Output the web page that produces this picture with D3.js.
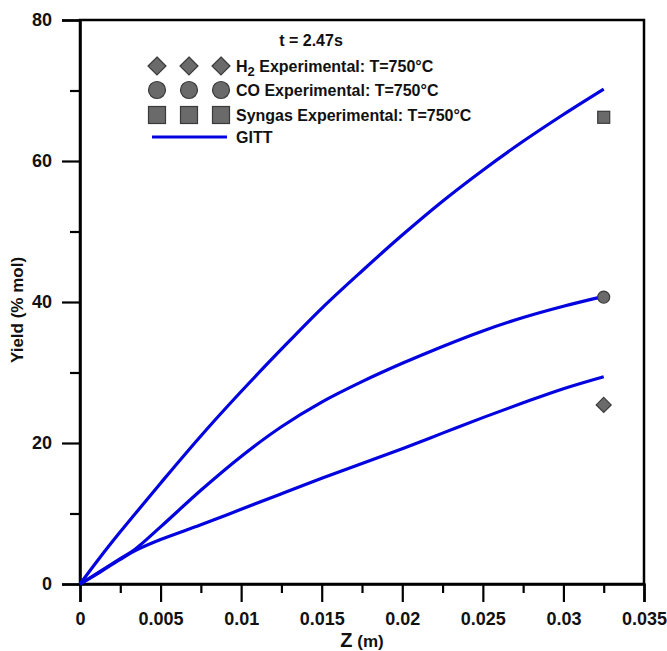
<!DOCTYPE html>
<html>
<head>
<meta charset="utf-8">
<script src="https://cdn.jsdelivr.net/npm/d3@7"></script>
<style>
  body { margin: 0; background: #fff; }
  svg { font-family: "Liberation Sans", Arial, sans-serif; font-weight: bold; }
</style>
</head>
<body>
<script>
// GITT curves, yield (% mol) vs Z (m)
var zValues = [0, 0.00125, 0.0025, 0.0034, 0.005, 0.0075, 0.01, 0.0125, 0.015, 0.0175, 0.02, 0.0225, 0.025, 0.0275, 0.03, 0.0325];
var syngasYield = [0, 3.8, 7.4, 9.9, 14.3, 21.0, 27.3, 33.3, 39.1, 44.4, 49.5, 54.3, 58.7, 62.8, 66.6, 70.2];
var coYield     = [0, 1.8, 3.6, 4.9, 8.1, 13.3, 18.1, 22.3, 25.8, 28.7, 31.3, 33.7, 35.9, 37.8, 39.4, 40.8];
var h2Yield     = [0, 1.7, 3.5, 4.7, 6.3, 8.4, 10.6, 12.8, 15.0, 17.1, 19.2, 21.4, 23.6, 25.7, 27.7, 29.4];

// experimental points
var expZ = 0.0325;
var expNames = ["Syngas", "CO", "H2"];
var expValues = [66.2, 40.7, 25.4];

var xTicks = [0, 0.005, 0.01, 0.015, 0.02, 0.025, 0.03, 0.035];
var yTicks = [0, 20, 40, 60, 80];

var margin = {top: 20, right: 23, bottom: 67, left: 80},
    width = 667 - margin.left - margin.right,
    height = 651 - margin.top - margin.bottom;

var svg = d3.select("body").append("svg")
    .attr("width", 667)
    .attr("height", 651);

var g = svg.append("g")
    .attr("transform", "translate(" + margin.left + "," + margin.top + ")");

var x = d3.scaleLinear().domain([0, 0.035]).range([0, width]);
var y = d3.scaleLinear().domain([0, 80]).range([height, 0]);

var blue = "#0303e0";
var markFill = "#6a6a6a", markStroke = "#3a3a3a";

// box
g.append("rect")
    .attr("width", width).attr("height", height)
    .attr("fill", "none").attr("stroke", "#000").attr("stroke-width", 2.5);

// x axis major + minor ticks
g.append("g").attr("transform", "translate(0," + height + ")")
    .call(d3.axisBottom(x).tickValues(xTicks).tickSize(18).tickPadding(10)
      .tickFormat(function(d) { return d === 0 ? "0" : String(+d.toFixed(3)); }));
g.append("g").attr("transform", "translate(0," + height + ")")
    .call(d3.axisBottom(x).tickValues(d3.range(0.0025, 0.035, 0.005)).tickSize(9).tickFormat(""))
    .select(".domain").remove();

g.append("g")
    .call(d3.axisLeft(y).tickValues(yTicks).tickSize(18).tickPadding(10));
g.append("g")
    .call(d3.axisLeft(y).tickValues([10, 30, 50, 70]).tickSize(10).tickFormat(""))
    .select(".domain").remove();

g.selectAll(".tick line").attr("stroke", "#000").attr("stroke-width", 2.2);
g.selectAll(".domain").attr("stroke", "#000").attr("stroke-width", 2.5);
g.selectAll(".tick text")
    .attr("fill", "#111")
    .style("font-family", "'Liberation Sans', Arial, sans-serif")
    .style("font-weight", "bold")
    .style("font-size", "18px");

// axis titles
var xt = svg.append("text")
    .attr("x", 362).attr("y", 647)
    .attr("text-anchor", "middle")
    .attr("fill", "#111");
xt.append("tspan").style("font-size", "20px").text("Z");
xt.append("tspan").style("font-size", "17px").text(" (m)");

svg.append("text")
    .attr("transform", "translate(23,310) rotate(-90)")
    .attr("text-anchor", "middle")
    .attr("fill", "#111")
    .style("font-size", "17px")
    .text("Yield (% mol)");

// curves
var series = [syngasYield, coYield, h2Yield];
var line = d3.line()
    .x(function(d, i) { return x(zValues[i]); })
    .y(function(d) { return y(d); })
    .curve(d3.curveCatmullRom.alpha(0.5));

g.selectAll(".gitt")
    .data(series)
    .enter().append("path")
    .attr("class", "gitt")
    .attr("d", line)
    .attr("fill", "none")
    .attr("stroke", blue)
    .attr("stroke-width", 3.2)
    .attr("stroke-linejoin", "round");

// marker drawing
function drawMarker(sel, name, cx, cy, s) {
  if (name === "Syngas") {
    sel.append("rect")
      .attr("x", cx - s / 2).attr("y", cy - s / 2)
      .attr("width", s).attr("height", s)
      .attr("fill", markFill).attr("stroke", markStroke).attr("stroke-width", 1.2);
  } else if (name === "CO") {
    sel.append("circle")
      .attr("cx", cx).attr("cy", cy).attr("r", s / 2)
      .attr("fill", markFill).attr("stroke", markStroke).attr("stroke-width", 1.2);
  } else {
    var h = s / 2;
    sel.append("path")
      .attr("d", "M" + cx + "," + (cy - h) + "L" + (cx + h) + "," + cy + "L" + cx + "," + (cy + h) + "L" + (cx - h) + "," + cy + "Z")
      .attr("fill", markFill).attr("stroke", markStroke).attr("stroke-width", 1.2);
  }
}

expNames.forEach(function(n, i) {
  var size = n === "H2" ? 15 : 12;
  drawMarker(g, n, x(expZ), y(expValues[i]), size);
});

// legend
svg.append("text")
    .attr("x", 311).attr("y", 46)
    .attr("text-anchor", "middle")
    .attr("fill", "#111")
    .style("font-size", "16px")
    .text("t = 2.47s");

var legendRows = [
  {name: "H2", y: 66, label: ["H", "2", " Experimental: T=750\u00B0C"]},
  {name: "CO", y: 90, label: ["CO Experimental: T=750\u00B0C"]},
  {name: "Syngas", y: 115, label: ["Syngas Experimental: T=750\u00B0C"]}
];
var legendX = [157, 189, 221];

legendRows.forEach(function(r) {
  legendX.forEach(function(lx) {
    drawMarker(svg, r.name, lx, r.y, r.name === "H2" ? 18 : 17);
  });
  var t = svg.append("text")
      .attr("x", 236).attr("y", r.y + 6)
      .attr("fill", "#111")
      .style("font-size", "16px");
  if (r.label.length === 3) {
    t.append("tspan").text(r.label[0]);
    t.append("tspan").attr("dy", 4).style("font-size", "13px").text(r.label[1]);
    t.append("tspan").attr("dy", -4).text(r.label[2]);
  } else {
    t.text(r.label[0]);
  }
});

svg.append("line")
    .attr("x1", 152).attr("x2", 227)
    .attr("y1", 137).attr("y2", 137)
    .attr("stroke", blue).attr("stroke-width", 3.2);
svg.append("text")
    .attr("x", 236).attr("y", 143)
    .attr("fill", "#111")
    .style("font-size", "16px")
    .text("GITT");
</script>
</body>
</html>
